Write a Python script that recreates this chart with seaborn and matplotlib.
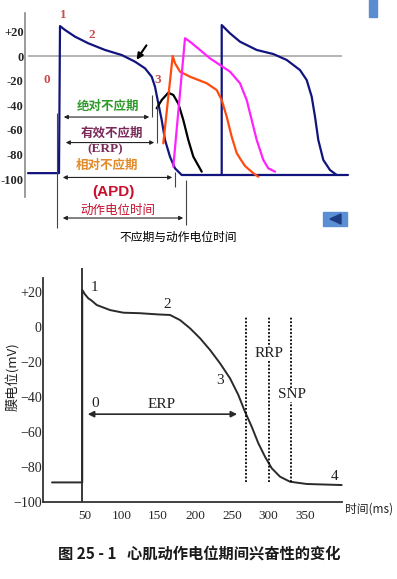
import matplotlib
matplotlib.use("Agg")
import matplotlib.pyplot as plt
import seaborn as sns
from matplotlib.patches import Rectangle, Polygon

# ---------- top panel: action potentials (t in arbitrary units, V in mV) ----------
blue1_t = [28, 59, 60, 65, 75, 88.3, 105, 121.7, 135, 145, 151.7, 155, 158.3, 161.7,
           165, 170, 175, 181.7, 348]
blue1_v = [-95, -95, 24.3, 21.1, 15.7, 10.3, 4.9, 0.8, -4.6, -10.0, -16.8, -24.9, -38.4,
           -51.9, -68.1, -81.7, -91.1, -96.5, -96.5]
blue2_t = [221.7, 221.7, 230, 240, 256.7, 273.3, 286.7, 300, 306.7, 311.7, 315, 318.3,
           323.3, 330, 336.7]
blue2_v = [-96.5, 25.1, 18.4, 11.6, 4.9, 1.6, -3.2, -11.4, -19.5, -33.0, -49.2, -68.1,
           -84.3, -92.5, -96.5]
black_t = [156.7, 161.7, 168.3, 173.3, 178.3, 183.3, 188.3, 193.3, 201.7]
black_v = [-42.4, -35.7, -29.8, -31.6, -38.5, -51.9, -68.1, -81.6, -93.8]
orange_t = [163.3, 172.7, 175, 180, 190, 206.7, 216.7, 221.7, 226.7, 231.7, 236.7, 241,
            245, 253.3, 258.3]
orange_v = [-70.8, 0, -5.9, -12.7, -16.8, -22.1, -27.6, -35.7, -49.2, -65.5, -78.7, -84.3,
            -89.2, -95.1, -97.9]
magenta_t = [173.3, 185, 190, 200, 210, 220, 230, 240, 246.7, 251.7, 256.7, 263.3, 268.3, 275]
magenta_v = [-89.8, 14.4, 11.6, 4.9, -1.9, -7.3, -12.7, -22.1, -35.7, -51.9, -68.1, -84.3,
             -91.1, -93.8]

# refractory intervals: (start, end) on the time axis
abs_ref = (61, 152)
eff_ref = (63, 157)
rel_ref = (60, 175)
apd = (60, 186)

top_ticks = [20, 0, -20, -40, -60, -80, -100]
top_ticklabels = ['+20', '0', '-20', '-40', '-60', '-80', '-100']

# ---------- bottom panel: ventricular AP (ms, mV) ----------
ventr_t = [6, 47, 47, 50.7, 55.2, 59.8, 66.6, 84.7, 102.7, 125.4, 150.2, 166.1, 179.6,
           193.2, 206.8, 220.4, 233.9, 247.5, 258.8, 267.8, 276.9, 285.9, 295, 304.1,
           315.3, 328.9, 351.6, 399]
ventr_v = [-89, -89, 21, 18.5, 16.2, 14.9, 12.4, 9.5, 8.0, 7.7, 7.0, 6.7, 3.8,
           -0.9, -6.6, -13.3, -20.9, -29.5, -39.0, -48.6, -57.1, -66.6, -74.3, -80.9,
           -85.7, -88.6, -89.9, -90.5]
stim_t = 47
erp_end, rrp_end, snp_end = 269, 300, 330
bot_xticks = [50, 100, 150, 200, 250, 300, 350]
bot_yticks = [20, 0, -20, -40, -60, -80, -100]
bot_yticklabels = ['+20', '0', '\u221220', '\u221240', '\u221260', '\u221280', '\u2212100']

W, H = 397, 579
sns.set_style("white")
plt.rcParams['font.family'] = ['Noto Sans CJK SC', 'DejaVu Sans']
SERIF = ['Liberation Serif', 'DejaVu Serif']

fig = plt.figure(figsize=(W / 100, H / 100), dpi=100)


def fx(px):
    return px / W


def fy(py):
    return 1 - py / H


def curve(ax, t, v, color, lw=1.6):
    sns.lineplot(x=t, y=v, estimator=None, sort=False, ax=ax, color=color, lw=lw)


# ================= top panel =================
ax = fig.add_axes([0, 1 - 250 / H, 1, 250 / H])
ax.set_xlim(0, W)
ax.set_ylim(-157.34, 45.42)

ax.hlines(0, 28, 342, color='#a0a0a0', lw=1.1)
navy = '#12147e'
curve(ax, blue1_t, blue1_v, navy)
curve(ax, blue2_t, blue2_v, navy)
curve(ax, black_t, black_v, 'black')
curve(ax, orange_t, orange_v, '#ff4a10')
curve(ax, magenta_t, magenta_v, '#ff22ff')

for s in ['top', 'right', 'bottom']:
    ax.spines[s].set_visible(False)
ax.spines['left'].set_position(('data', 25))
ax.spines['left'].set_bounds(-114.4, 34.9)
ax.spines['left'].set_color('#8a8a8a')
ax.spines['left'].set_linewidth(1.2)
ax.set_xticks([])
ax.set_yticks(top_ticks)
ax.set_yticklabels(top_ticklabels, fontfamily=SERIF, fontweight='bold', fontsize=9)
ax.tick_params(axis='y', direction='in', length=4, width=1, color='#8a8a8a', pad=1)
ax.set_xlabel('')
ax.set_ylabel('')

red = '#cc4b4b'
for txt, x, y in [('1', 63, 33.3), ('2', 92, 17), ('0', 47, -19.5), ('3', 158, -19.5)]:
    ax.text(x, y, txt, color=red, fontsize=9.5, fontweight='bold', family=SERIF,
            ha='center', va='center')

ax.annotate('', xy=(135, -4.9), xytext=(148, 10.5),
            arrowprops=dict(arrowstyle='-|>', color='black', lw=1.5, mutation_scale=9))

# brackets
arr = dict(arrowstyle='<|-|>', color='#222222', lw=0.8, mutation_scale=6)
ax.vlines(57, -139.5, -46.2, color='#444444', lw=0.8)
for (a, b), yv, (y0, y1) in [(abs_ref, -49.5, (-31.6, -49.5)),
                             (eff_ref, -70.2, (-39.7, -70.6)),
                             (rel_ref, -98.5, (-94.1, -106.2)),
                             (apd, -131.4, (-100.6, -137.1))]:
    ax.annotate('', xy=(b, yv), xytext=(a, yv), arrowprops=arr)
    ax.vlines(b, y1, y0, color='#444444', lw=0.8)

ax.text(108, -40.6, '绝对不应期', color='#2f9a2a', fontsize=9, fontweight='bold',
        ha='center', va='center')
ax.text(111.7, -62.7, '有效不应期', color='#7a2a58', fontsize=9, fontweight='bold',
        ha='center', va='center')
ax.text(105, -75.4, '(ERP)', color='#7a2a58', fontsize=9.5, fontweight='bold', family=SERIF,
        ha='center', va='center')
ax.text(107.5, -89, '相对不应期', color='#e08a2a', fontsize=9, fontweight='bold',
        ha='center', va='center')
ax.text(113, -110, '(APD)', color='#c8102e', fontsize=11, fontweight='bold',
        family=['Liberation Sans', 'DejaVu Sans'], ha='center', va='center')
ax.text(118, -124.9, '动作电位时间', color='#c8102e', fontsize=9,
        ha='center', va='center')
ax.text(178, -146.8, '不应期与动作电位时间', color='black', fontsize=8.5,
        ha='center', va='center')

# ================= bottom panel =================
bx = fig.add_axes([0, 0, 1, 324 / H])
bx.set_xlim(-64.6, 474.1)
bx.set_ylim(-144.2, 40.97)

curve(bx, ventr_t, ventr_v, '#2a2a2a', lw=1.4)
bx.vlines(stim_t, -100, 33.4, color='#2a2a2a', lw=1.3)
for xv in [erp_end, rrp_end, snp_end]:
    bx.vlines(xv, -88.6, 5.4, color='black', lw=1.3, linestyles=(0, (1, 1)))

bx.annotate('', xy=(261, -50), xytext=(50.7, -50),
            arrowprops=dict(arrowstyle='<|-|>', color='#2a2a2a', lw=1.2, mutation_scale=9))

for s in ['top', 'right']:
    bx.spines[s].set_visible(False)
bx.spines['left'].set_position(('data', -6.2))
bx.spines['left'].set_bounds(-100, 27.7)
bx.spines['bottom'].set_position(('data', -100))
bx.spines['bottom'].set_bounds(-6.2, 399.5)
for s in ['left', 'bottom']:
    bx.spines[s].set_color('#333333')
    bx.spines[s].set_linewidth(1.3)
bx.set_xticks(bot_xticks)
bx.set_xticklabels([str(v) for v in bot_xticks], fontfamily=SERIF, fontsize=9.5)
bx.set_yticks(bot_yticks)
bx.set_yticklabels(bot_yticklabels, fontfamily=SERIF, fontsize=10)
bx.tick_params(axis='y', direction='in', length=3, width=1, pad=1)
bx.tick_params(axis='x', direction='in', length=4, width=1, pad=6)
bx.set_xlabel('')
bx.set_ylabel('')

for txt, x, y in [('1', 64, 22.6), ('2', 162, 12.4), ('3', 234, -30.5), ('4', 389, -85.7),
                  ('0', 64, -43.8), ('ERP', 155, -44.7)]:
    bx.text(x, y, txt, color='#222222', fontsize=11, family=SERIF, ha='center', va='center')
for txt, x, y in [('RRP', 300.4, -15.6), ('SNP', 331.6, -39)]:
    bx.text(x, y, txt, color='#222222', fontsize=11, family=SERIF, ha='center', va='center',
            bbox=dict(facecolor='white', edgecolor='none', pad=0.5))

fig.text(fx(345), fy(509), '时间(ms)', fontsize=8.5, ha='left', va='center', color='#222222')
fig.text(fx(12), fy(377), '膜电位(mV)', fontsize=9.5, rotation=90, ha='center', va='center',
         color='#222222')
fig.text(fx(58), fy(555), '图 25 - 1   心肌动作电位期间兴奋性的变化', fontsize=11,
         fontweight='bold', ha='left', va='center', color='#1a1a1a')

# slide decorations
fig.patches.append(Rectangle((fx(369), fy(17)), 8 / W, 17 / H, transform=fig.transFigure,
                             color='#5b8bd0'))
fig.patches.append(Rectangle((fx(323), fy(226)), 24 / W, 14 / H, transform=fig.transFigure,
                             color='#5a8fd6'))
fig.patches.append(Polygon([(fx(330), fy(219)), (fx(341), fy(214)), (fx(341), fy(224))],
                           closed=True, transform=fig.transFigure, color='#1d3c82'))

fig.savefig('out.png', dpi=100)
